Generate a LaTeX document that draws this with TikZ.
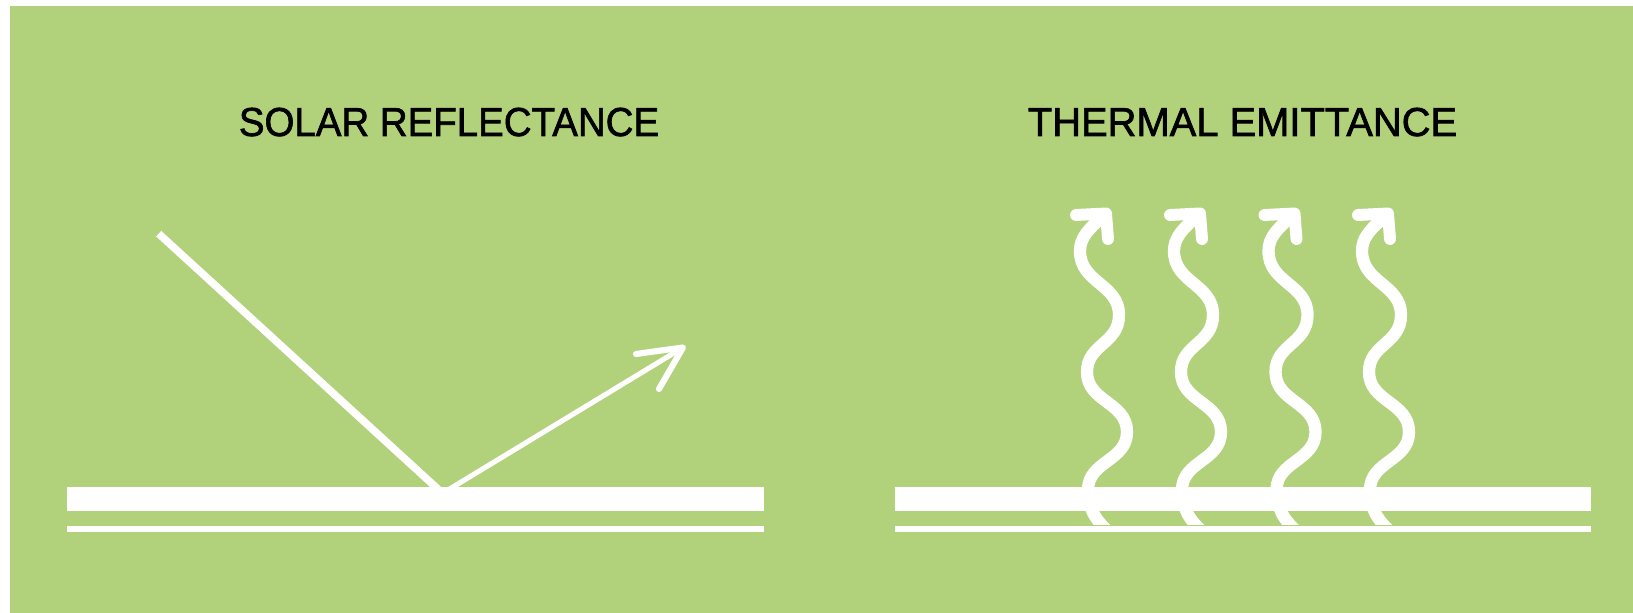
\documentclass[tikz,border=0pt]{standalone}
\usepackage{graphicx}
\usepackage{fontspec}
\setmainfont{Liberation Sans}
\newfontfamily\titlefont[FakeBold=1.6]{Liberation Sans}
\definecolor{bggreen}{RGB}{177,209,122}
\begin{document}
\begin{tikzpicture}[x=0.01cm,y=-0.01cm,
  barfill/.style={fill=white},
  ray/.style={draw=white,line width=2.15pt,line cap=butt},
  reflray/.style={draw=white,line width=1.45pt,line cap=butt},
  reflhead/.style={draw=white,line width=1.75pt,line cap=round,line join=round},
  wavey/.style={draw=white,line width=3.5pt,line cap=butt},
  wavehead/.style={draw=white,line width=3.4pt,line cap=round,line join=round},
  title/.style={font=\titlefont\fontsize{11.5}{12}\selectfont,text=black,inner sep=0pt,anchor=base}]
\useasboundingbox (0,0) rectangle (1633,613);
\fill[white] (0,0) rectangle (1633,613);
\fill[bggreen] (10,6) rectangle (1633,613);

% titles
\node[title] (solar) at (449,136) {\resizebox{4.20cm}{\height}{SOLAR REFLECTANCE}};
\node[title] (thermal) at (1242.5,136) {\resizebox{4.29cm}{\height}{THERMAL EMITTANCE}};

% surfaces
\fill[barfill] (67.3,486.7) rectangle (763.5,510.8);
\fill[barfill] (67.3,525.7) rectangle (763.5,532);
\fill[barfill] (894.6,486.7) rectangle (1590.7,510.8);
\fill[barfill] (894.6,525.7) rectangle (1590.7,532);

% solar reflectance rays
\coordinate (inStart) at (158.7,233.7);
\coordinate (inEnd) at (440,491);
\coordinate (outStart) at (448,490);
\coordinate (outTip) at (683,347.5);
\coordinate (headA) at (636,354);
\coordinate (headB) at (659,389);
\draw[ray] (inStart) -- (inEnd);
\draw[reflray] (outStart) -- (outTip);
\draw[reflhead] (headA) -- (outTip) -- (headB);

% thermal emittance waves
\begin{scope}
\clip (800,150) rectangle (1633,525);
\foreach \dx in {0,94,188.5,282} {
  \begin{scope}[shift={(\dx,0)}]
    \draw[wavey] (1105,215) .. controls (1088,229) and (1080,238) .. (1080,251)
      .. controls (1080,283) and (1119,284) .. (1119,315)
      .. controls (1119,344) and (1087,344) .. (1087,372)
      .. controls (1087,402) and (1127,402) .. (1127,432)
      .. controls (1127,461) and (1088,461) .. (1088,490)
      .. controls (1088,508) and (1095,520) .. (1110,533);
    \draw[wavehead] (1076,215) -- (1106,213.5) -- (1108,239);
  \end{scope}
}
\end{scope}
\end{tikzpicture}
\end{document}
